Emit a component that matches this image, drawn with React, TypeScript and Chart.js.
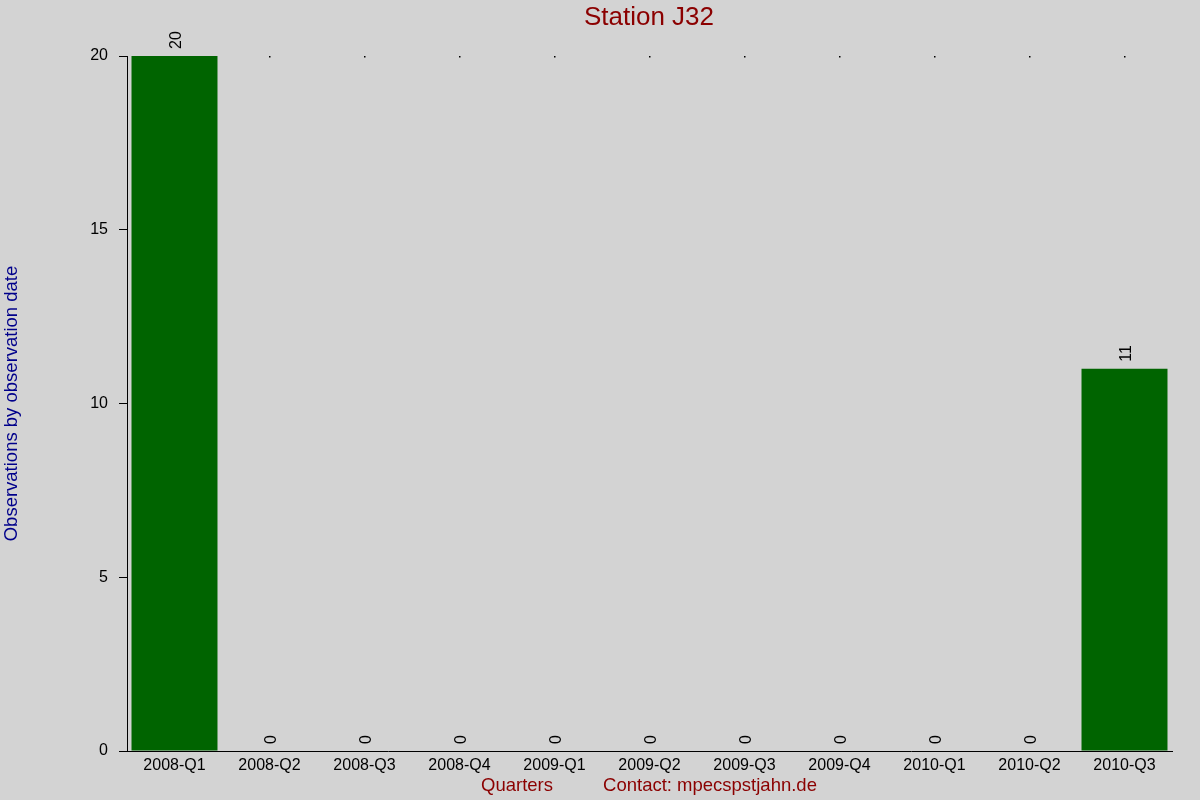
import React, { useEffect, useRef } from "react";
import { Chart, registerables } from "chart.js";

Chart.register(...registerables);

const quarters = [
  "2008-Q1", "2008-Q2", "2008-Q3", "2008-Q4",
  "2009-Q1", "2009-Q2", "2009-Q3", "2009-Q4",
  "2010-Q1", "2010-Q2", "2010-Q3",
];
const observations = [20, 0, 0, 0, 0, 0, 0, 0, 0, 0, 11];
const yMax = 20;
const yStep = 5;

const FONT = "'Liberation Sans', Arial, sans-serif";
const DARK_RED = "#8b0000";
const DARK_BLUE = "#00008b";

export default function App() {
  const canvasRef = useRef<HTMLCanvasElement>(null);
  const chartRef = useRef<Chart | null>(null);

  useEffect(() => {
    document.body.style.margin = "0";
    if (!canvasRef.current) return;
    chartRef.current?.destroy();

    chartRef.current = new Chart(canvasRef.current, {
      type: "bar",
      data: {
        labels: quarters,
        datasets: [
          {
            data: observations,
            backgroundColor: "#006400",
            borderWidth: 0,
            barPercentage: 0.905,
            categoryPercentage: 1,
          },
        ],
      },
      options: {
        responsive: false,
        animation: false,
        layout: { padding: { top: 56, right: 28, left: 0, bottom: 0 } },
        plugins: {
          legend: { display: false },
          tooltip: { enabled: false },
          title: { display: false },
        },
        scales: {
          x: {
            grid: { display: false },
            border: { display: true, color: "#000", width: 1 },
            ticks: {
              color: "#000",
              font: { size: 16, family: FONT },
              padding: -3,
              maxRotation: 0,
              autoSkip: false,
            },
            afterFit: (scale) => {
              scale.height = 49;
            },
          },
          y: {
            min: 0,
            max: yMax,
            ticks: {
              stepSize: yStep,
              color: "#000",
              font: { size: 16, family: FONT },
              padding: 11,
            },
            grid: {
              drawOnChartArea: false,
              drawTicks: true,
              tickLength: 8,
              tickColor: "#000",
            },
            border: { display: true, color: "#000", width: 1 },
            afterFit: (scale) => {
              scale.width = 127;
            },
          },
        },
      },
      plugins: [
        {
          id: "background",
          beforeDraw: (chart) => {
            const ctx = chart.ctx;
            ctx.save();
            ctx.fillStyle = "#d3d3d3";
            ctx.fillRect(0, 0, chart.width, chart.height);
            ctx.restore();
          },
        },
        {
          id: "topDots",
          beforeDatasetsDraw: (chart) => {
            const ctx = chart.ctx;
            const xs = chart.scales.x;
            const top = chart.chartArea.top;
            ctx.save();
            ctx.fillStyle = "#000";
            quarters.forEach((_, i) => {
              const x = xs.getPixelForValue(i);
              ctx.fillRect(Math.round(x) - 1, Math.round(top), 1.5, 1.5);
            });
            ctx.restore();
          },
        },
        {
          id: "texts",
          afterDraw: (chart) => {
            const ctx = chart.ctx;
            const { top, bottom } = chart.chartArea;
            const xs = chart.scales.x;
            const ys = chart.scales.y;
            ctx.save();

            // title
            ctx.fillStyle = DARK_RED;
            ctx.font = `26px ${FONT}`;
            ctx.textAlign = "center";
            ctx.textBaseline = "middle";
            ctx.fillText("Station J32", 649, 18);

            // x titles
            ctx.font = `18.5px ${FONT}`;
            ctx.fillText("Quarters", 517, 786);
            ctx.fillText("Contact: mpecspstjahn.de", 710, 786);

            // y title
            ctx.fillStyle = DARK_BLUE;
            ctx.translate(12, (top + bottom) / 2);
            ctx.rotate(-Math.PI / 2);
            ctx.fillText("Observations by observation date", 0, 0);
            ctx.setTransform(1, 0, 0, 1, 0, 0);

            // value labels
            ctx.fillStyle = "#000";
            ctx.font = `16px ${FONT}`;
            ctx.textAlign = "left";
            observations.forEach((v, i) => {
              const x = xs.getPixelForValue(i);
              const y = ys.getPixelForValue(v);
              ctx.save();
              ctx.translate(x + 2, y - 7);
              ctx.rotate(-Math.PI / 2);
              ctx.fillText(String(v), 0, 0);
              ctx.restore();
            });
            ctx.restore();
          },
        },
      ],
    });

    return () => {
      chartRef.current?.destroy();
      chartRef.current = null;
    };
  }, []);

  return (
    <div style={{ width: 1200, height: 800 }}>
      <canvas ref={canvasRef} width={1200} height={800} />
    </div>
  );
}
